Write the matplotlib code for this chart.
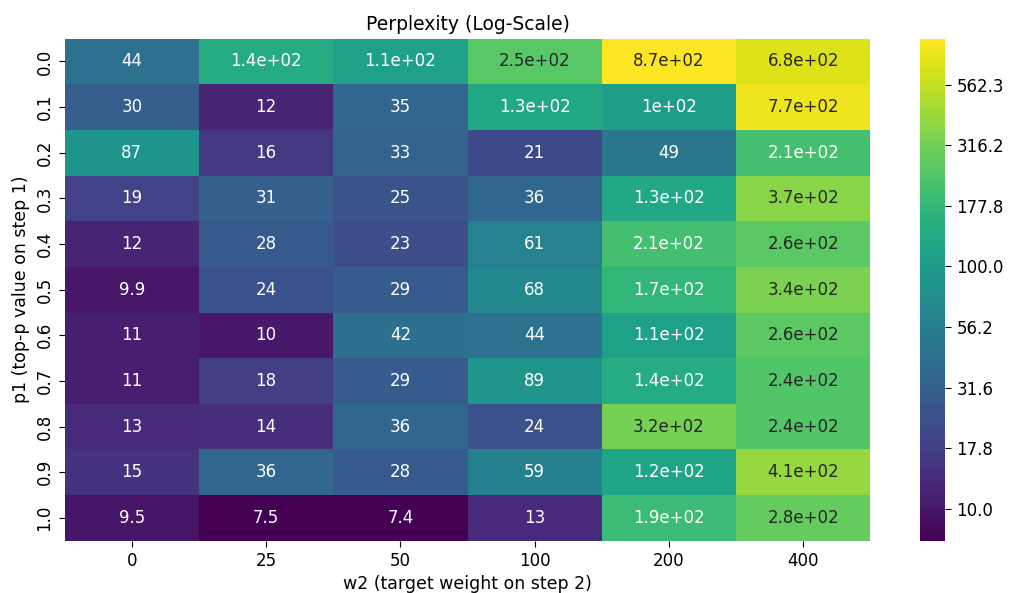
import matplotlib
matplotlib.use("Agg")
import matplotlib.pyplot as plt
import seaborn as sns
import numpy as np
import pandas as pd
from matplotlib.colors import LogNorm

# grid axes
p1_values = [0.0, 0.1, 0.2, 0.3, 0.4, 0.5, 0.6, 0.7, 0.8, 0.9, 1.0]
w2_values = [0, 25, 50, 100, 200, 400]

# perplexity per (p1, w2)
perplexity = [
    [44, 140, 110, 250, 870, 680],
    [30, 12, 35, 130, 104, 770],
    [87, 16, 33, 21, 49, 210],
    [19, 31, 25, 36, 130, 370],
    [12, 28, 23, 61, 210, 260],
    [9.9, 24, 29, 68, 170, 340],
    [11, 10, 42, 44, 110, 260],
    [11, 18, 29, 89, 140, 240],
    [13, 14, 36, 24, 320, 240],
    [15, 36, 28, 59, 120, 410],
    [9.5, 7.5, 7.4, 13, 190, 280],
]

cbar_ticks = [10.0, 17.8, 31.6, 56.2, 100.0, 177.8, 316.2, 562.3]

df = pd.DataFrame(perplexity, index=p1_values, columns=w2_values)

fig = plt.figure(figsize=(10.11, 5.93), dpi=100)
ax = fig.add_axes([0.064, 0.088, 0.797, 0.847])
cax = fig.add_axes([0.910, 0.088, 0.025, 0.847])

sns.heatmap(df, ax=ax, cbar_ax=cax, cmap="viridis",
            norm=LogNorm(vmin=df.values.min(), vmax=df.values.max()),
            annot=True, annot_kws={"size": 12},
            cbar_kws={"ticks": cbar_ticks, "format": "%.1f"})

cax.minorticks_off()
cax.tick_params(labelsize=12, length=4.5)
ax.tick_params(labelsize=12, length=4.5)
ax.set_yticklabels([f"{v:.1f}" for v in p1_values], rotation=90, va="center")
ax.set_xticklabels([str(v) for v in w2_values], rotation=0)
ax.set_title("Perplexity (Log-Scale)", fontsize=13.5, pad=6)
ax.set_xlabel("w2 (target weight on step 2)", fontsize=12.5)
ax.set_ylabel("p1 (top-p value on step 1)", fontsize=12.5)

fig.savefig("out.png", dpi=100)
